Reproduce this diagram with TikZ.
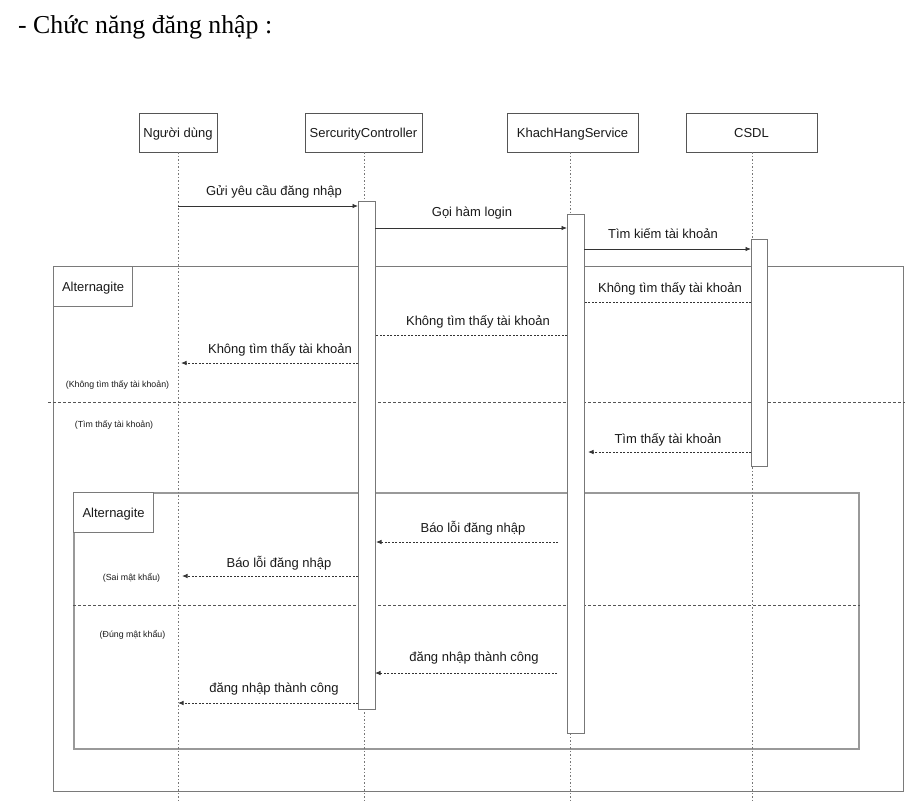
\documentclass[tikz,border=0pt]{standalone}
\usepackage{fontspec}
\setmainfont{Liberation Sans}
\newfontfamily\titlefont{Liberation Serif}
\usetikzlibrary{arrows.meta}
\definecolor{txtC}{HTML}{1A1A1A}
\definecolor{headC}{HTML}{555555}
\definecolor{lifeC}{HTML}{777777}
\definecolor{barC}{HTML}{777777}
\definecolor{msgC}{HTML}{333333}
\definecolor{frameC}{HTML}{7A7A7A}
\definecolor{frameiC}{HTML}{999999}
\definecolor{sepC}{HTML}{555555}
\begin{document}
\begin{tikzpicture}[x=1pt,y=-1pt,
  head/.style={draw=headC, line width=0.8pt, fill=white, minimum height=39pt, inner sep=0pt, font=\fontsize{13}{15}\selectfont, text=txtC, text height=9.3pt, text depth=0pt},
  life/.style={draw=lifeC, line width=0.8pt, dash pattern=on 1.5pt off 2pt},
  actbar/.style={draw=barC, line width=1pt, fill=white, minimum width=17pt, inner sep=0pt, anchor=north west},
  msg/.style={draw=msgC, line width=0.8pt, -{Latex[length=5.5pt,width=4.5pt]}},
  ret/.style={msg, dash pattern=on 2pt off 1.5pt},
  retnotip/.style={draw=msgC, line width=0.8pt, dash pattern=on 2pt off 1.5pt},
  lbl/.style={font=\fontsize{13}{15}\selectfont, text=txtC, inner sep=0pt, yshift=-1.5pt},
  cond/.style={font=\fontsize{8.8}{10}\selectfont, text=txtC, inner sep=0pt, yshift=-1pt},
  frameo/.style={draw=frameC, line width=1.3pt, inner sep=0pt, anchor=north west},
  framei/.style={draw=frameiC, line width=1.8pt, inner sep=0pt, anchor=north west},
  sep/.style={draw=sepC, line width=0.8pt, dash pattern=on 3pt off 2pt},
  altlbl/.style={draw=frameC, line width=1.2pt, fill=white, font=\fontsize{13}{15}\selectfont, text=txtC, inner sep=0pt, anchor=north west, text height=9.3pt, text depth=0pt}
]
\useasboundingbox (0,0) rectangle (922,812);
\fill[white] (0,0) rectangle (922,812);

% title
\node[anchor=base west, inner sep=0pt, font=\titlefont\fontsize{25.8}{30}\selectfont, text=black] (title) at (18,33) {- Chức năng đăng nhập :};

% frames
\node[frameo, minimum width=850pt, minimum height=525pt] (alt1) at (53,266) {};
\node[altlbl, minimum width=79pt, minimum height=40pt] (alt1lbl) at (53,266) {Alternagite};
\coordinate (s1a) at (48,402);
\coordinate (s1b) at (905,402);
\draw[sep] (s1a) -- (s1b);
\node[framei, minimum width=785pt, minimum height=256pt] (alt2) at (73,492) {};
\node[altlbl, minimum width=80pt, minimum height=40pt] (alt2lbl) at (73,492) {Alternagite};
\coordinate (s2a) at (73,605);
\coordinate (s2b) at (860,605);
\draw[sep] (s2a) -- (s2b);

% condition labels
\node[cond] (c1) at (117.5,384) {(Không tìm thấy tài khoản)};
\node[cond] (c2) at (114,424) {(Tìm thấy tài khoản)};
\node[cond] (c3) at (131.5,577) {(Sai mật khẩu)};
\node[cond] (c4) at (132.5,634) {(Đúng mật khẩu)};

% headers
\node[head, minimum width=78pt] (user) at (178,132.5) {Người dùng};
\node[head, minimum width=117pt] (sc) at (363.5,132.5) {SercurityController};
\node[head, minimum width=131pt] (khs) at (572.5,132.5) {KhachHangService};
\node[head, minimum width=131pt] (db) at (751.5,132.5) {CSDL};

% lifelines
\coordinate (userEnd) at (178,801);
\coordinate (scEnd) at (364,801);
\coordinate (khsEnd) at (570,801);
\coordinate (dbEnd) at (752,801);
\draw[life] (user.south -| userEnd) -- (userEnd);
\draw[life] (sc.south -| scEnd) -- (scEnd);
\draw[life] (khs.south -| khsEnd) -- (khsEnd);
\draw[life] (db.south -| dbEnd) -- (dbEnd);

% activation bars
\node[actbar, minimum height=508pt] (scbar) at (358,201) {};
\node[actbar, minimum height=519pt] (khsbar) at (567,214) {};
\node[actbar, minimum width=16pt, minimum height=227pt] (dbbar) at (751,239) {};

% messages
\coordinate (m1a) at (178,206);  \coordinate (m1b) at (358,206);
\draw[msg] (m1a) -- (m1b);
\node[lbl] (l1) at (274,190) {Gửi yêu cầu đăng nhập};

\coordinate (m2a) at (375,228);  \coordinate (m2b) at (567,228);
\draw[msg] (m2a) -- (m2b);
\node[lbl] (l2) at (472,211.5) {Gọi hàm login};

\coordinate (m3a) at (584,249);  \coordinate (m3b) at (751,249);
\draw[msg] (m3a) -- (m3b);
\node[lbl] (l3) at (663,232) {Tìm kiếm tài khoản};

\coordinate (m4a) at (751,302);  \coordinate (m4b) at (584,302);
\draw[retnotip] (m4a) -- (m4b);
\node[lbl] (l4) at (670,287) {Không tìm thấy tài khoản};

\coordinate (m5a) at (567,335);  \coordinate (m5b) at (375,335);
\draw[retnotip] (m5a) -- (m5b);
\node[lbl] (l5) at (478,320.5) {Không tìm thấy tài khoản};

\coordinate (m6a) at (358,363);  \coordinate (m6b) at (181,363);
\draw[ret] (m6a) -- (m6b);
\node[lbl] (l6) at (280,348) {Không tìm thấy tài khoản};

\coordinate (m7a) at (751,452);  \coordinate (m7b) at (588,452);
\draw[ret] (m7a) -- (m7b);
\node[lbl] (l7) at (668,438) {Tìm thấy tài khoản};

\coordinate (m8a) at (558,542);  \coordinate (m8b) at (376,542);
\draw[ret] (m8a) -- (m8b);
\node[lbl] (l8) at (473,527) {Báo lỗi đăng nhập};

\coordinate (m9a) at (358,576);  \coordinate (m9b) at (182,576);
\draw[ret] (m9a) -- (m9b);
\node[lbl] (l9) at (279,561.5) {Báo lỗi đăng nhập};

\coordinate (m10a) at (557,673);  \coordinate (m10b) at (375,673);
\draw[ret] (m10a) -- (m10b);
\node[lbl] (l10) at (474,656.5) {đăng nhập thành công};

\coordinate (m11a) at (358,703);  \coordinate (m11b) at (178,703);
\draw[ret] (m11a) -- (m11b);
\node[lbl] (l11) at (274,688) {đăng nhập thành công};
\end{tikzpicture}
\end{document}
